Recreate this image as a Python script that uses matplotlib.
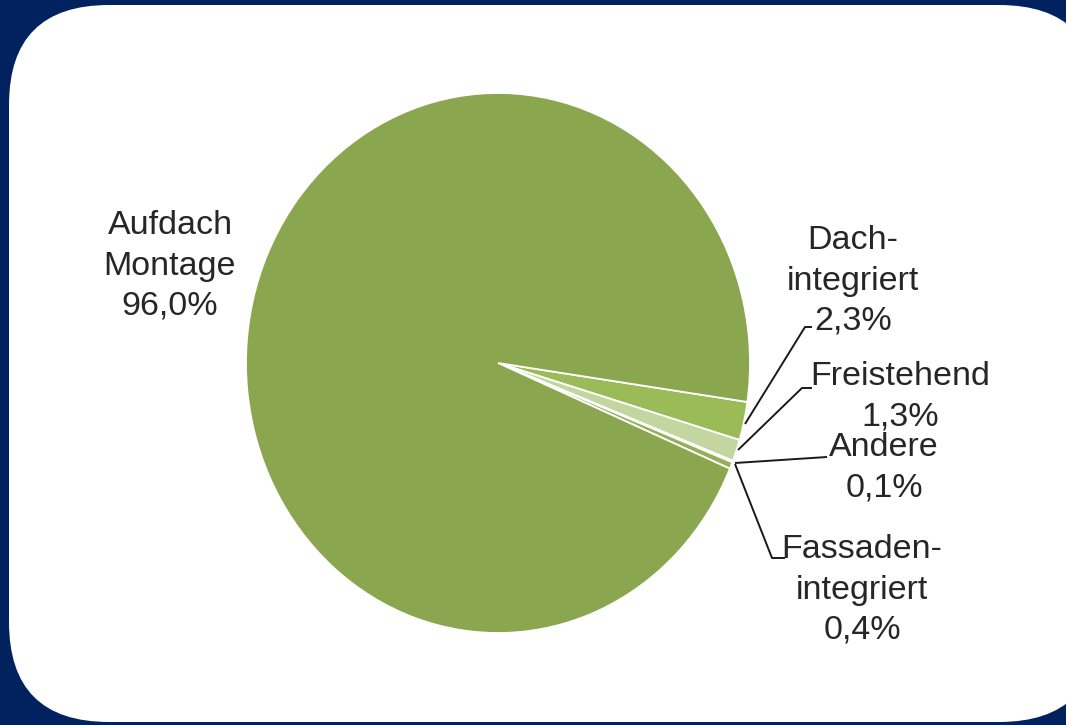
import matplotlib
matplotlib.use("Agg")
import matplotlib.pyplot as plt
from matplotlib.patches import FancyBboxPatch

# ---- data ----
categories = ["Dach-\nintegriert", "Freistehend", "Andere", "Fassaden-\nintegriert", "Aufdach\nMontage"]
values = [2.3, 1.3, 0.1, 0.4, 96.0]
value_labels = ["2,3%", "1,3%", "0,1%", "0,4%", "96,0%"]
colors = ["#9BBB59", "#C4D69F", "#D9E5C2", "#93AF58", "#8AA64F"]

W, H = 1066, 725
fig = plt.figure(figsize=(W / 100, H / 100), dpi=100)
fig.patch.set_facecolor("#01215F")
plt.rcParams['font.family'] = ['Liberation Sans', 'DejaVu Sans']

# background with rounded white panel
ax_bg = fig.add_axes([0, 0, 1, 1], zorder=0)
ax_bg.set_xlim(0, W)
ax_bg.set_ylim(H, 0)
ax_bg.axis("off")
panel = FancyBboxPatch((9, 5), 1090, 717, boxstyle="round,pad=0,rounding_size=100",
                       facecolor="white", edgecolor="none")
ax_bg.add_patch(panel)

# pie axes (slightly taller than wide, as in reference)
px, py, pw, ph = 246, 93, 504, 540
ax_pie = fig.add_axes([px / W, (H - py - ph) / H, pw / W, ph / H], zorder=1)
wedges, _ = ax_pie.pie(values, colors=colors, startangle=-8.3, counterclock=False,
                       radius=1.0, wedgeprops=dict(edgecolor="white", linewidth=1.3))
ax_pie.set_aspect("auto")
ax_pie.set_xlim(-1.0, 1.0)
ax_pie.set_ylim(-1.0, 1.0)
ax_pie.axis("off")

# overlay for labels and leader lines
ax_ov = fig.add_axes([0, 0, 1, 1], zorder=3)
ax_ov.set_xlim(0, W)
ax_ov.set_ylim(H, 0)
ax_ov.axis("off")
ax_ov.patch.set_alpha(0)

lk = dict(color="#1a1a1a", lw=1.4, solid_capstyle="butt")
ax_ov.plot([745, 805, 812], [424, 327, 327], **lk)
ax_ov.plot([738, 802, 812], [450, 388, 388], **lk)
ax_ov.plot([735, 827], [463, 457], **lk)
ax_ov.plot([735, 772, 785], [464, 558, 558], **lk)

tk = dict(fontsize=24.5, color="#262626", ha="center", va="center", linespacing=1.38)
label_pos = [(853, 281), (900, 397), (884, 468), (862, 590), (170, 266)]
for cat, lab, (x, y) in zip(categories, value_labels, label_pos):
    ax_ov.text(x, y, cat + "\n" + lab, **tk)

fig.savefig("out.png", dpi=100, facecolor=fig.get_facecolor())
